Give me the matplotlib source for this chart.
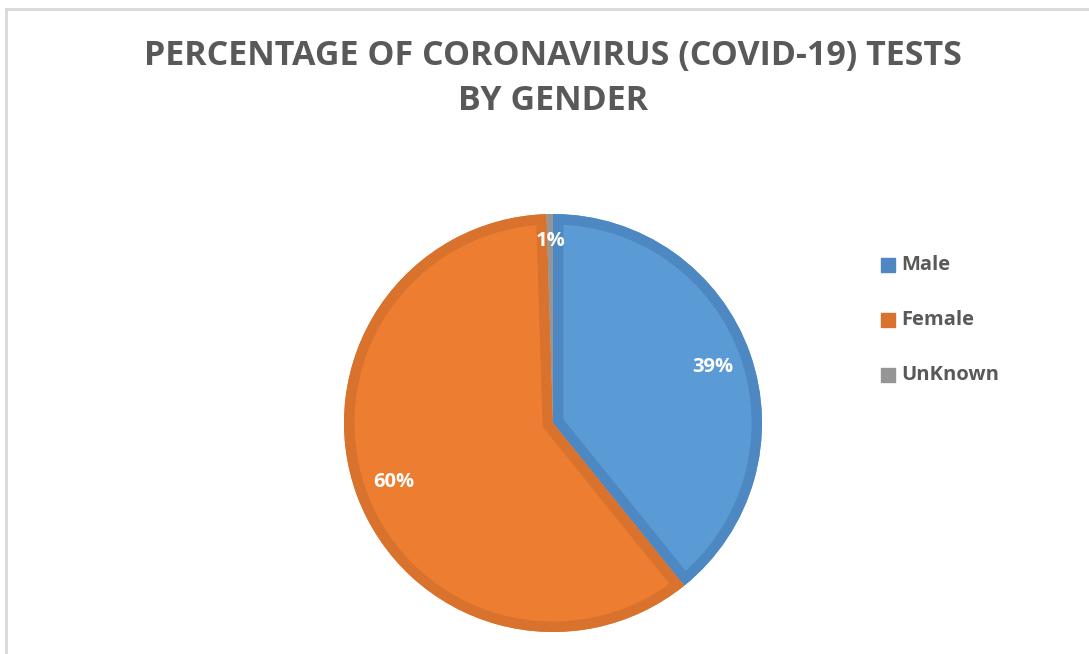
import matplotlib
matplotlib.use("Agg")
import matplotlib.pyplot as plt
from matplotlib.lines import Line2D
from matplotlib.patches import Wedge

# datos
categorias = ["Male", "Female", "UnKnown"]
porcentajes = [39.2, 60.3, 0.5]
colores = ["#5B9BD5", "#ED7D31", "#A5A5A5"]
bordes = ["#4E88C2", "#D8722D", "#959595"]

plt.rcParams['font.family'] = ['Open Sans', 'DejaVu Sans']

W, H = 1089, 654
fig = plt.figure(figsize=(W / 100, H / 100), dpi=100)

# marco gris (arriba e izquierda)
fig.add_artist(Line2D([6 / W, 6 / W], [0, 1 - 9 / H], color="#D9D9D9", lw=2, transform=fig.transFigure))
fig.add_artist(Line2D([6 / W, 1], [1 - 9 / H, 1 - 9 / H], color="#D9D9D9", lw=2, transform=fig.transFigure))

fig.text(553 / W, 1 - 56 / H, "PERCENTAGE OF CORONAVIRUS (COVID-19) TESTS", ha="center", va="center",
         fontsize=24.5, fontweight="bold", color="#595959")
fig.text(553 / W, 1 - 101 / H, "BY GENDER", ha="center", va="center",
         fontsize=24.5, fontweight="bold", color="#595959")

cx, cy, r = 553, 423, 209
ax = fig.add_axes([(cx - r) / W, (H - cy - r) / H, 2 * r / W, 2 * r / H])
wedges, textos, pcts = ax.pie(porcentajes, colors=colores, startangle=90, counterclock=False,
                              radius=1, pctdistance=0.81,
                              autopct=lambda p: f"{int(p + 0.5)}%",
                              textprops=dict(color="white", fontsize=14.5, fontweight="bold"))
# borde interior mas oscuro (recortado a cada porcion)
for w, b in zip(wedges, bordes):
    w.set_linewidth(0)
    borde = Wedge(w.center, w.r, w.theta1, w.theta2, fill=False, edgecolor=b, linewidth=15)
    ax.add_patch(borde)
    borde.set_clip_path(w)
for t in pcts:
    t.set_zorder(5)
# la etiqueta pequena queda algo mas afuera
px, py = pcts[2].get_position()
pcts[2].set_position((px * 0.87 / 0.81, py * 0.87 / 0.81))

ax.set_xlim(-1, 1)
ax.set_ylim(-1, 1)
ax.set_aspect("equal")
ax.axis("off")

# leyenda
for i, (cat, col) in enumerate(zip(categorias, bordes)):
    y = 1 - (265 + 55 * i) / H
    fig.patches.append(plt.Rectangle((881 / W, y - 7 / H), 14 / W, 14 / H, color=col,
                                     transform=fig.transFigure, figure=fig))
    fig.text(901 / W, y, cat, ha="left", va="center", fontsize=14.5, fontweight="bold", color="#595959")

fig.savefig("out.png", dpi=100)
